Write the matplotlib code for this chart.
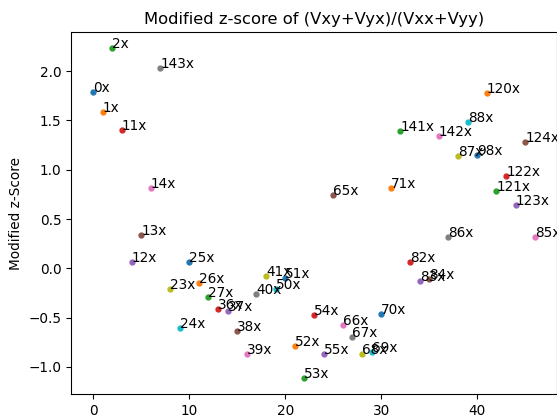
import matplotlib

matplotlib.use("Agg")

import matplotlib.pyplot as plt


LABELS = [
    "0x", "1x", "2x", "11x", "12x", "13x", "14x", "143x", "23x", "24x",
    "25x", "26x", "27x", "36x", "37x", "38x", "39x", "40x", "41x", "50x",
    "51x", "52x", "53x", "54x", "55x", "65x", "66x", "67x", "68x", "69x",
    "70x", "71x", "141x", "82x", "83x", "84x", "142x", "86x", "87x", "88x",
    "98x", "120x", "121x", "122x", "123x", "124x", "85x",
]
Z_SCORES = [
    1.79, 1.59, 2.23, 1.40, 0.064, 0.34, 0.81, 2.03, -0.206, -0.60,
    0.064, -0.145, -0.287, -0.41, -0.436, -0.63, -0.865, -0.263, -0.074, -0.206,
    -0.094, -0.79, -1.107, -0.473, -0.871, 0.74, -0.57, -0.70, -0.871, -0.844,
    -0.463, 0.82, 1.388, 0.064, -0.125, -0.111, 1.344, 0.314, 1.135, 1.486,
    1.148, 1.783, 0.78, 0.939, 0.641, 1.277, 0.314,
]

DPI = 98


def main():
    fig = plt.figure(figsize=(557 / DPI, 420 / DPI), dpi=DPI)
    ax = fig.add_axes([71 / 557, 1 - 394 / 420, 486 / 557, 362 / 420])
    for i, (label, z) in enumerate(zip(LABELS, Z_SCORES)):
        ax.scatter(i, z, s=13)
        ax.annotate(label, (i, z))
    ax.set_title("Modified z-score of (Vxy+Vyx)/(Vxx+Vyy)")
    ax.set_ylabel("Modified z-Score")
    fig.savefig("out.png", dpi=DPI)
    plt.close(fig)


if __name__ == "__main__":
    main()
